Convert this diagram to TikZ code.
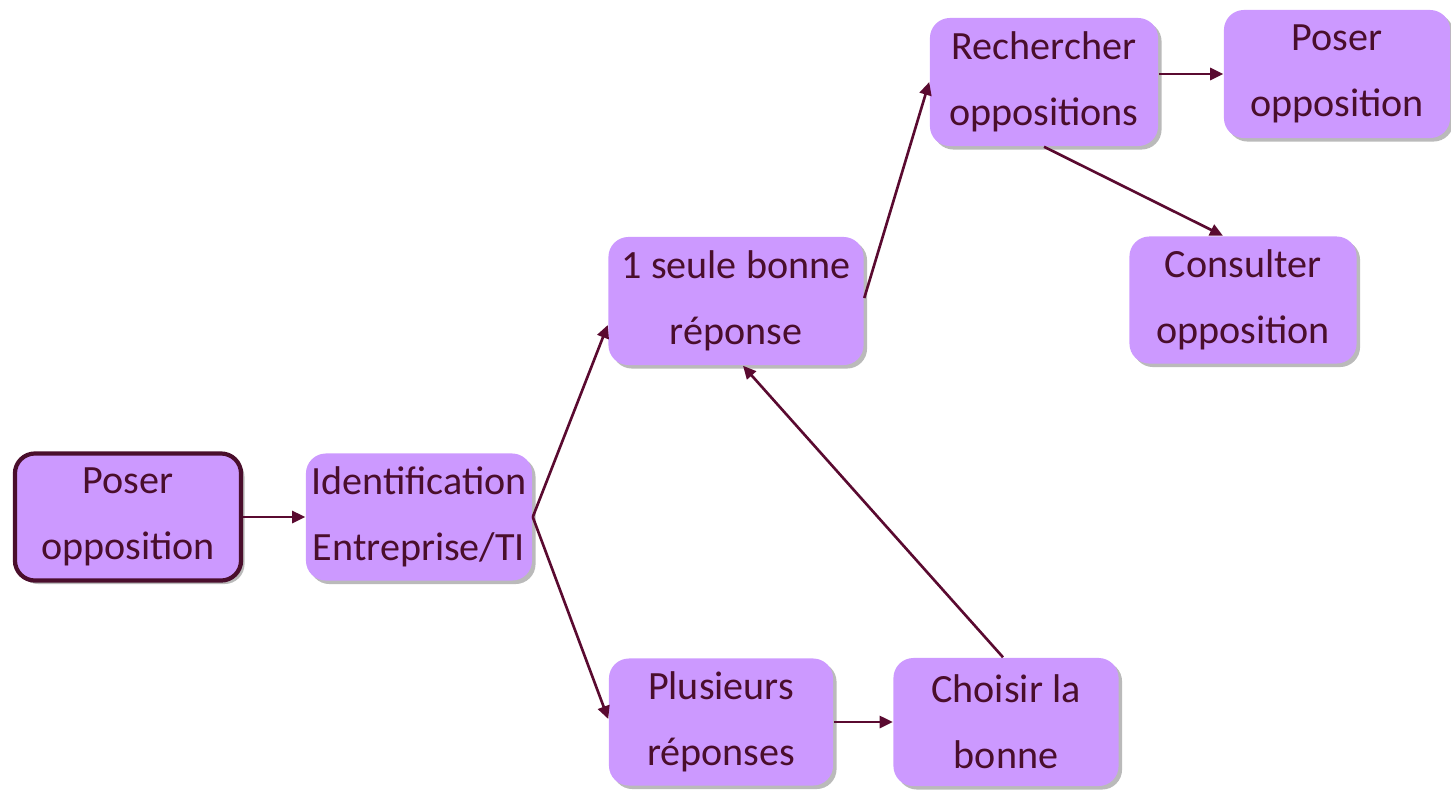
\documentclass[tikz,border=0pt]{standalone}
\usepackage{fontspec}
\setmainfont{Carlito}
\usetikzlibrary{shadows,arrows.meta}
\definecolor{lav}{HTML}{CC99FF}
\definecolor{tc}{HTML}{4A0E2C}
\definecolor{ac}{HTML}{5A0A30}
\tikzset{
  box/.style={rectangle, rounded corners=2mm, fill=lav, draw=none, text=tc,
    align=center, inner sep=0pt,
    font=\fontsize{11.4}{18.7}\selectfont,
    drop shadow={shadow xshift=0.35mm, shadow yshift=-0.35mm, fill=black!45, opacity=0.6}},
  startbox/.style={box, draw=tc, line width=1.2pt},
  arr/.style={draw=ac, line width=0.75pt, -{Triangle[length=1.3mm,width=1.2mm]}}
}
\begin{document}
\begin{tikzpicture}[x=0.01cm, y=-0.01cm]
\useasboundingbox (0,0) rectangle (1451,790);
\node[startbox, minimum width=22.6mm, minimum height=12.7mm] (p1) at (128,517) {Poser\\opposition};
\node[box, minimum width=22.6mm, minimum height=12.7mm] (id) at (419,517) {Identification\\Entreprise/TI};
\node[box, minimum width=25.5mm, minimum height=12.8mm] (seule) at (736,301) {1 seule bonne\\réponse};
\node[box, minimum width=22.4mm, minimum height=12.7mm] (plus) at (721,722) {Plusieurs\\réponses};
\node[box, minimum width=22.5mm, minimum height=12.8mm] (chois) at (1006,722) {Choisir la\\bonne};
\node[box, minimum width=22.8mm, minimum height=12.8mm] (rech) at (1044,82) {Rechercher\\oppositions};
\node[box, minimum width=22.6mm, minimum height=12.8mm] (p2) at (1337,74) {Poser\\opposition};
\node[box, minimum width=22.7mm, minimum height=12.7mm] (cons) at (1243,300) {Consulter\\opposition};

\draw[arr] (p1.east) -- (id.west);
\draw[arr] (id.east) -- ([yshift=-2.4mm]seule.west);
\draw[arr] (id.east) -- ([yshift=0.3mm]plus.west);
\draw[arr] ([yshift=0.3mm]seule.east) -- (rech.west);
\draw[arr] (rech.east |- p2.west) -- (p2.west);
\draw[arr] (rech.south) -- ([xshift=-2mm]cons.north);
\draw[arr] (plus.east) -- (chois.west);
\draw[arr] ([xshift=-0.3mm]chois.north) -- ([xshift=0.7mm]seule.south);
\end{tikzpicture}
\end{document}
